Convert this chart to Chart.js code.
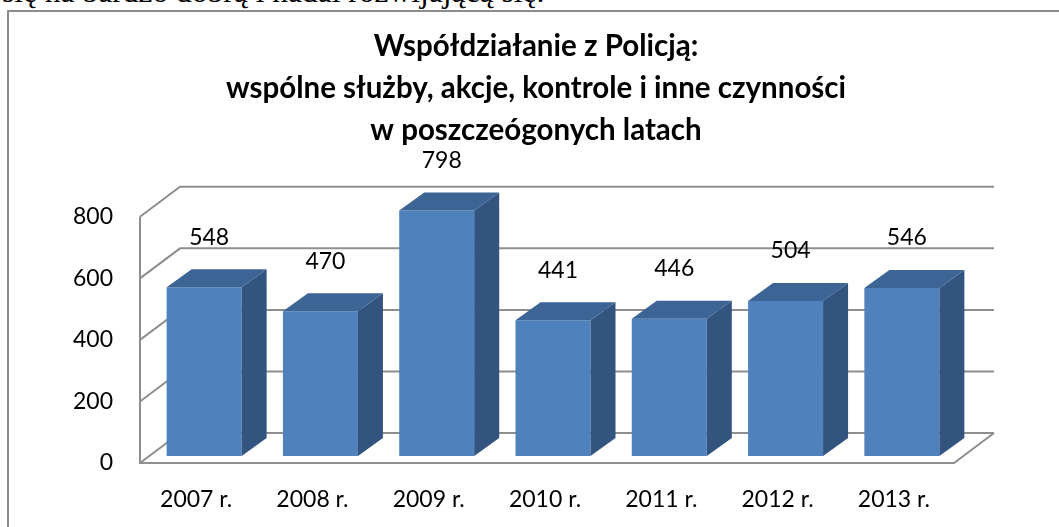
<!DOCTYPE html>
<html>
<head>
<meta charset="utf-8">
<script src="https://cdn.jsdelivr.net/npm/chart.js@4.4.0/dist/chart.umd.min.js"></script>
<style>
  html, body { margin: 0; padding: 0; background: #fff; overflow: hidden; }
  #wrap { position: relative; width: 1059px; height: 527px; overflow: hidden; }
  #above { position: absolute; left: 2px; top: -26px; font: 31.5px "Liberation Serif", serif; white-space: nowrap; color: #000; }
  #frame { position: absolute; left: 7px; top: 10px; width: 1100px; height: 600px; border: 2px solid #8c8c8c; box-sizing: border-box; }
  #c { position: absolute; left: 0; top: 0; }
</style>
</head>
<body>
<div id="wrap">
  <div id="above">się na bardzo dobrą i nadal rozwijającą się.</div>
  <div id="frame"></div>
  <canvas id="c" width="1059" height="527"></canvas>
</div>
<script>
// data
const years = ['2007 r.', '2008 r.', '2009 r.', '2010 r.', '2011 r.', '2012 r.', '2013 r.'];
const counts = [548, 470, 798, 441, 446, 504, 546];
const yTicks = [0, 200, 400, 600, 800];
const titleLines = [
  'Współdziałanie z Policją:',
  'wspólne służby, akcje, kontrole i inne czynności',
  'w poszczeógonych latach',
];

const FONT = 'Lato';
const FRONT = '#4F81BD';
const TOP = '#3C6494';
const SIDE = '#32547E';
const GRID = '#8e8e8e';

// fake 3D: walls, floor, bar sides and tops, value labels
const box3d = {
  id: 'box3d',
  beforeDatasetsDraw(chart) {
    const { ctx, chartArea: a, scales: { y } } = chart;
    const fx0 = a.left - 6, fx1 = a.right - 6;
    const dx = 40, dy = -30, lift = 7;
    ctx.save();
    ctx.strokeStyle = GRID;
    ctx.lineWidth = 2;
    yTicks.forEach(v => {
      const yf = y.getPixelForValue(v) + lift;
      ctx.beginPath();
      ctx.moveTo(fx0, yf);
      ctx.lineTo(fx0 + dx, yf + dy);
      ctx.lineTo(fx1 + dx, yf + dy);
      ctx.stroke();
    });
    const top = y.getPixelForValue(y.max) + lift;
    const bot = y.getPixelForValue(0) + lift;
    ctx.beginPath();
    ctx.moveTo(fx0, top);
    ctx.lineTo(fx0, bot);
    ctx.lineTo(fx1, bot);
    ctx.lineTo(fx1 + dx, bot + dy);
    ctx.stroke();
    ctx.restore();
  },
  afterDatasetsDraw(chart) {
    const { ctx } = chart;
    const meta = chart.getDatasetMeta(0);
    const ddx = 25, ddy = -18;
    ctx.save();
    meta.data.forEach((bar, i) => {
      const { x, y, base, width } = bar.getProps(['x', 'y', 'base', 'width'], true);
      const x1 = x - width / 2, x2 = x + width / 2;
      ctx.fillStyle = SIDE;
      ctx.beginPath();
      ctx.moveTo(x2, y);
      ctx.lineTo(x2 + ddx, y + ddy);
      ctx.lineTo(x2 + ddx, base + ddy);
      ctx.lineTo(x2, base);
      ctx.closePath();
      ctx.fill();
      ctx.fillStyle = TOP;
      ctx.beginPath();
      ctx.moveTo(x1, y);
      ctx.lineTo(x1 + ddx, y + ddy);
      ctx.lineTo(x2 + ddx, y + ddy);
      ctx.lineTo(x2, y);
      ctx.closePath();
      ctx.fill();

      ctx.fillStyle = '#000';
      ctx.font = `23px ${FONT}`;
      ctx.textAlign = 'center';
      ctx.textBaseline = 'middle';
      ctx.fillText(String(counts[i]), x + 5, y - 50);
    });
    ctx.restore();
  },
};

new Chart(document.getElementById('c'), {
  type: 'bar',
  data: {
    labels: years,
    datasets: [{
      data: counts,
      backgroundColor: FRONT,
      borderWidth: 0,
      barPercentage: 0.645,
      categoryPercentage: 1,
    }],
  },
  options: {
    responsive: false,
    animation: false,
    devicePixelRatio: 1,
    layout: { padding: { left: 13, right: 0, top: 0, bottom: 0 } },
    plugins: {
      legend: { display: false },
      tooltip: { enabled: false },
      title: {
        display: true,
        text: titleLines,
        color: '#000',
        font: { family: FONT, size: 29.5, weight: 'bold', lineHeight: 1.41 },
        padding: { top: 26, bottom: 59 },
      },
    },
    scales: {
      x: {
        grid: { display: false, drawTicks: false },
        border: { display: false },
        ticks: { color: '#000', font: { family: FONT, size: 23 }, padding: 30, labelOffset: -8 },
        afterFit: s => { s.height = 71; },
      },
      y: {
        min: 0,
        max: 800,
        grid: { display: false, drawTicks: false },
        border: { display: false },
        ticks: { stepSize: 200, color: '#000', font: { family: FONT, size: 23 }, padding: 33, labelOffset: 7 },
        afterFit: s => { s.width = 133; },
      },
      // empty right axis, only reserves room for the 3D depth
      yRight: {
        position: 'right',
        min: 0,
        max: 800,
        grid: { display: false, drawTicks: false },
        border: { display: false },
        ticks: { display: false },
        afterFit: s => { s.width = 99; },
      },
    },
  },
  plugins: [box3d],
});
</script>
</body>
</html>
